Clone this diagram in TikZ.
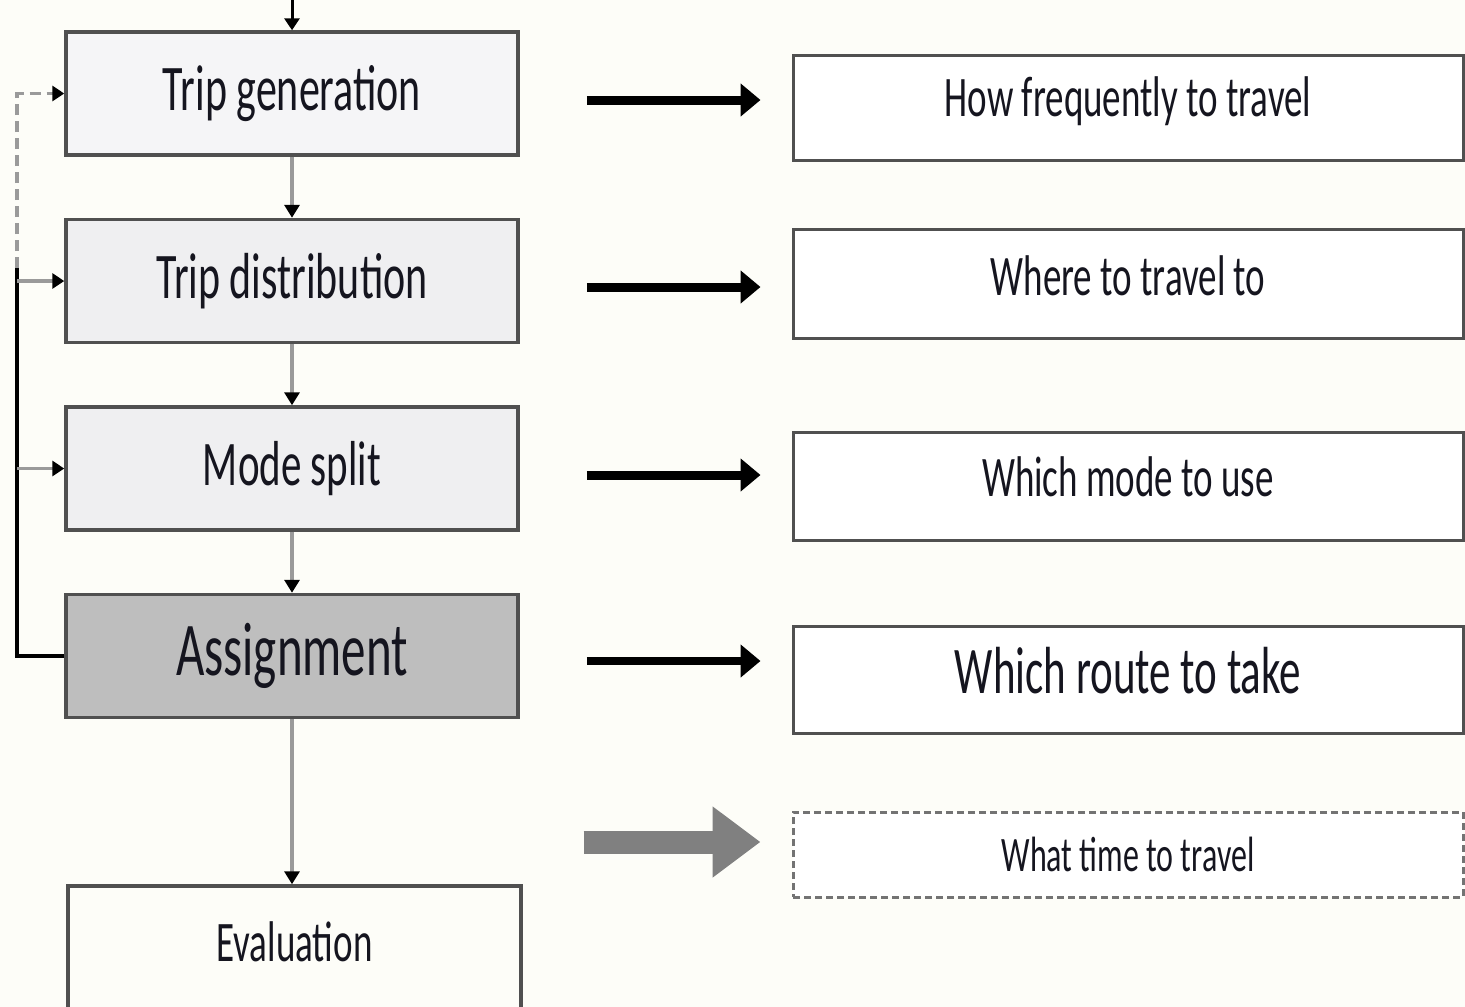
\documentclass[tikz,border=0pt]{standalone}
\usepackage{fontspec}
\setmainfont{Carlito}
\usepackage{graphicx}
\usetikzlibrary{arrows.meta,calc}

\definecolor{bg}{HTML}{FDFDF8}
\definecolor{edge}{HTML}{505050}
\definecolor{stepA}{HTML}{F5F5F7}
\definecolor{stepB}{HTML}{EFEFF1}
\definecolor{stepC}{HTML}{BEBEBE}
\definecolor{link}{HTML}{9A9A9A}
\definecolor{bigarrow}{HTML}{808080}
\definecolor{ink}{HTML}{15151F}

% condensed-looking label: font size, then a vertical stretch
\newcommand\boxtext[2]{\fontsize{#1}{#1}\selectfont\scalebox{1}[1.55]{#2}}

\begin{document}
\begin{tikzpicture}[x=1pt,y=-1pt,
  stage/.style={draw=edge, line width=3.5pt, minimum width=452pt,
    minimum height=123pt, inner sep=0pt, text=ink},
  answer/.style={draw=edge, line width=3pt, fill=white, minimum width=670pt,
    inner sep=0pt, text=ink},
  flow/.style={draw=link, line width=4.5pt,
    -{Triangle[length=13pt,width=15pt,color=black]}},
  feed/.style={line width=3.5pt,
    -{Triangle[length=12pt,width=15pt,color=black]}},
  lead/.style={draw=black, line width=9pt, -{Triangle[length=20pt,width=32pt]}}]

\clip (0,0) rectangle (1465,1007);
\fill[bg] (0,0) rectangle (1465,1007);

% model stages
\node[stage, fill=stepA] (tg) at (292,93.5)  {\boxtext{42}{Trip generation}};
\node[stage, fill=stepB] (td) at (292,281)   {\boxtext{42}{Trip distribution}};
\node[stage, fill=stepB] (ms) at (292,468.5) {\boxtext{41}{Mode split}};
\node[stage, fill=stepC] (as) at (292,656)   {\boxtext{49}{Assignment}};
\node[stage, fill=bg, minimum width=453pt, minimum height=140pt, text depth=28pt]
     (ev) at (294.5,956) {\boxtext{37}{Evaluation}};

% questions answered by each stage
\node[answer, minimum height=105pt, text depth=22pt] (hf) at (1128,107.5) {\boxtext{37}{How frequently to travel}};
\node[answer, minimum height=109pt, text depth=16pt] (wt) at (1128,283.5) {\boxtext{37}{Where to travel to}};
\node[answer, minimum height=108pt, text depth=18pt] (wm) at (1128,486)   {\boxtext{37}{Which mode to use}};
\node[answer, minimum height=107pt, text depth=18pt] (wr) at (1128,679.5) {\boxtext{43}{Which route to take}};
\node[answer, draw=edge!80, dash pattern=on 7pt off 4pt, minimum height=85pt]
     (wh) at (1128,854.5) {\boxtext{32}{What time to travel}};

% main sequence
\coordinate (in) at (292,0);
\draw[feed, draw=black, line width=3pt] (in) -- (tg.north);
\draw[flow] (tg.south) -- (td.north);
\draw[flow] (td.south) -- (ms.north);
\draw[flow] (ms.south) -- (as.north);
\draw[flow] (as.south) -- (as.south |- ev.north);

% feedback loop from assignment
\coordinate (rail) at (17,268);
\draw[line width=3.5pt, line join=miter] (as.west) -- (as.west -| rail) -- (rail);
\draw[feed, draw=link, dash pattern=on 11pt off 6pt] (rail) -- (rail |- tg.west) -- (tg.west);
\draw[feed, draw=link] (td.west -| rail) -- (td.west);
\draw[feed, draw=link] (ms.west -| rail) -- (ms.west);

% stage to question arrows
\coordinate (a1) at ($(tg.east)+(67,6.5)$);
\coordinate (a2) at ($(td.east)+(67,6)$);
\coordinate (a3) at ($(ms.east)+(67,6.5)$);
\coordinate (a4) at ($(as.east)+(67,5)$);
\coordinate (a5) at ($(wh.west)+(-208,-12.5)$);
\draw[lead] (a1) -- ($(a1 -| hf.west)+(-31,0)$);
\draw[lead] (a2) -- ($(a2 -| wt.west)+(-31,0)$);
\draw[lead] (a3) -- ($(a3 -| wm.west)+(-31,0)$);
\draw[lead, line width=8pt] (a4) -- ($(a4 -| wr.west)+(-31,0)$);
\draw[draw=bigarrow, line width=23pt, -{Triangle[length=48pt,width=68pt]}]
     (a5) -- ($(a5 -| wh.west)+(-31,0)$);

\end{tikzpicture}
\end{document}
